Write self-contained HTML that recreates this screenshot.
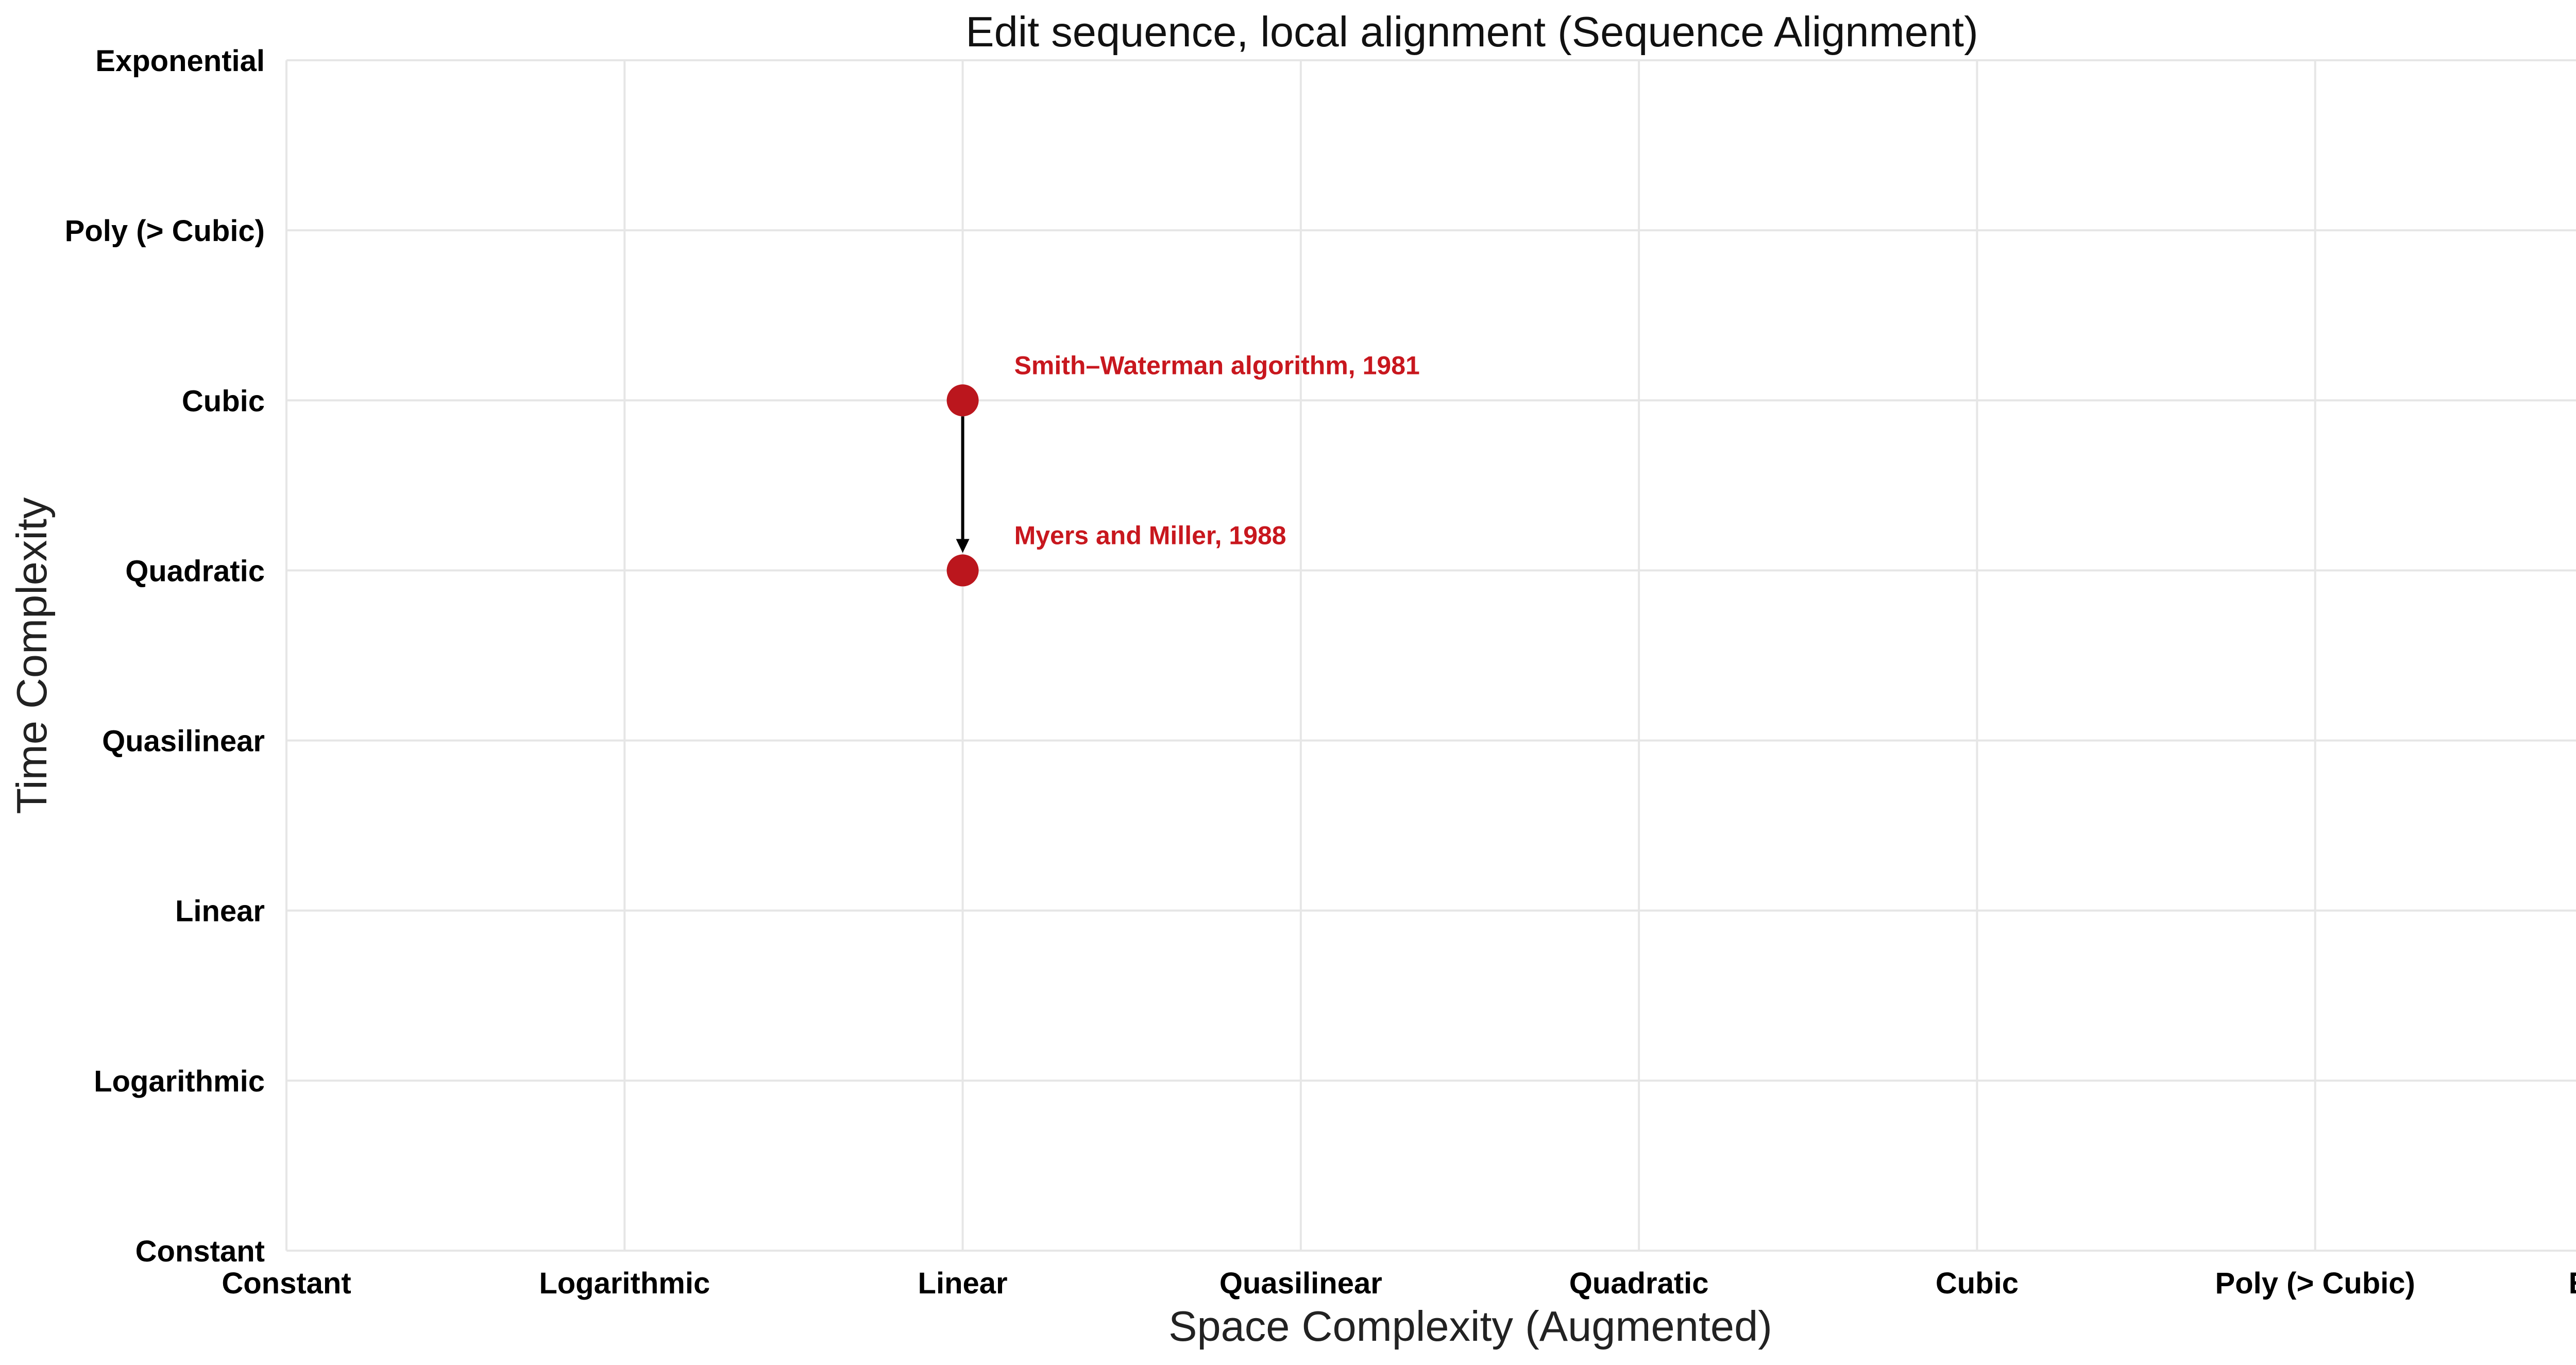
<!DOCTYPE html>
<html><head><meta charset="utf-8"><style>
html,body{margin:0;padding:0;background:#fff;width:5353px;height:2650px;overflow:hidden;}
svg{display:block;font-family:"Liberation Sans",Arial,sans-serif;}
</style></head><body>
<svg id="chart" width="5353" height="2650" viewBox="0 0 5353 2650" xmlns="http://www.w3.org/2000/svg">
<text x="2857" y="90" font-size="83" text-anchor="middle" fill="#111">Edit sequence, local alignment (Sequence Alignment)</text>
<g id="grid"></g>
<g id="ticks"></g>
<g id="marks"></g>
<text x="2854" y="2603" font-size="83" text-anchor="middle" fill="#222">Space Complexity (Augmented)</text>
<text x="0" y="0" font-size="83" text-anchor="middle" fill="#222" transform="translate(90,1273) rotate(-90)">Time Complexity</text>
</svg>
<script>
const xLabels = ["Constant","Logarithmic","Linear","Quasilinear","Quadratic","Cubic","Poly (> Cubic)","Exponential"];
const yLabels = ["Constant","Logarithmic","Linear","Quasilinear","Quadratic","Cubic","Poly (> Cubic)","Exponential"];
const pointNames = ["Smith\u2013Waterman algorithm, 1981","Myers and Miller, 1988"];
const pointSpace = [2, 2];
const pointTime = [5, 4];
const arrowsFrom = [0];
const arrowsTo = [1];

const NS="http://www.w3.org/2000/svg";
const L=556,R=5150,T=117,B=2428;
const xs=i=>L+(R-L)*i/(xLabels.length-1);
const ys=i=>B-(B-T)*i/(yLabels.length-1);
function mk(tag,attrs,parent){const e=document.createElementNS(NS,tag);for(const k in attrs)e.setAttribute(k,attrs[k]);parent.appendChild(e);return e;}
const grid=document.getElementById('grid'),ticks=document.getElementById('ticks'),marks=document.getElementById('marks');
xLabels.forEach((lab,i)=>{
  const ln=mk('line',{x1:xs(i),x2:xs(i),y1:T,y2:B,stroke:'#e6e6e6','stroke-width':4},grid);
  
  
  const t=mk('text',{x:xs(i),y:2511,'font-size':58,'font-weight':'bold','text-anchor':'middle',fill:'#000'},ticks);
  t.textContent=lab;
  
  
});
yLabels.forEach((lab,i)=>{
  const ln=mk('line',{x1:L,x2:R,y1:ys(i),y2:ys(i),stroke:'#e6e6e6','stroke-width':4},grid);
  
  
  const t=mk('text',{x:514,y:ys(i)+21,'font-size':58,'font-weight':'bold','text-anchor':'end',fill:'#000'},ticks);
  t.textContent=lab;
  
  
});
const r=31;
arrowsFrom.forEach((f,k)=>{
  const to=arrowsTo[k];
  const x1=xs(pointSpace[f]),y1=ys(pointTime[f]),x2=xs(pointSpace[to]),y2=ys(pointTime[to]);
  const dy=y2>y1?1:-1;
  const sy=y1+dy*r,tipY=y2-dy*(r+3),hb=tipY-dy*27;
  const ln=mk('line',{x1:x1,x2:x2,y1:sy,y2:hb,stroke:'#000','stroke-width':6},marks);
  
  
  const hd=mk('polygon',{points:`${x2-13},${hb} ${x2+13},${hb} ${x2},${tipY}`,fill:'#000'},marks);
  
  
});
pointNames.forEach((nm,i)=>{
  const cx=xs(pointSpace[i]),cy=ys(pointTime[i]);
  const c=mk('circle',{cx:cx,cy:cy,r:r,fill:'#bb161d'},marks);
  
  
  const t=mk('text',{x:cx+100,y:cy-51,'font-size':50,'font-weight':'bold',fill:'#c8171e'},marks);
  t.textContent=nm;
  
  
});
</script>
</body></html>
